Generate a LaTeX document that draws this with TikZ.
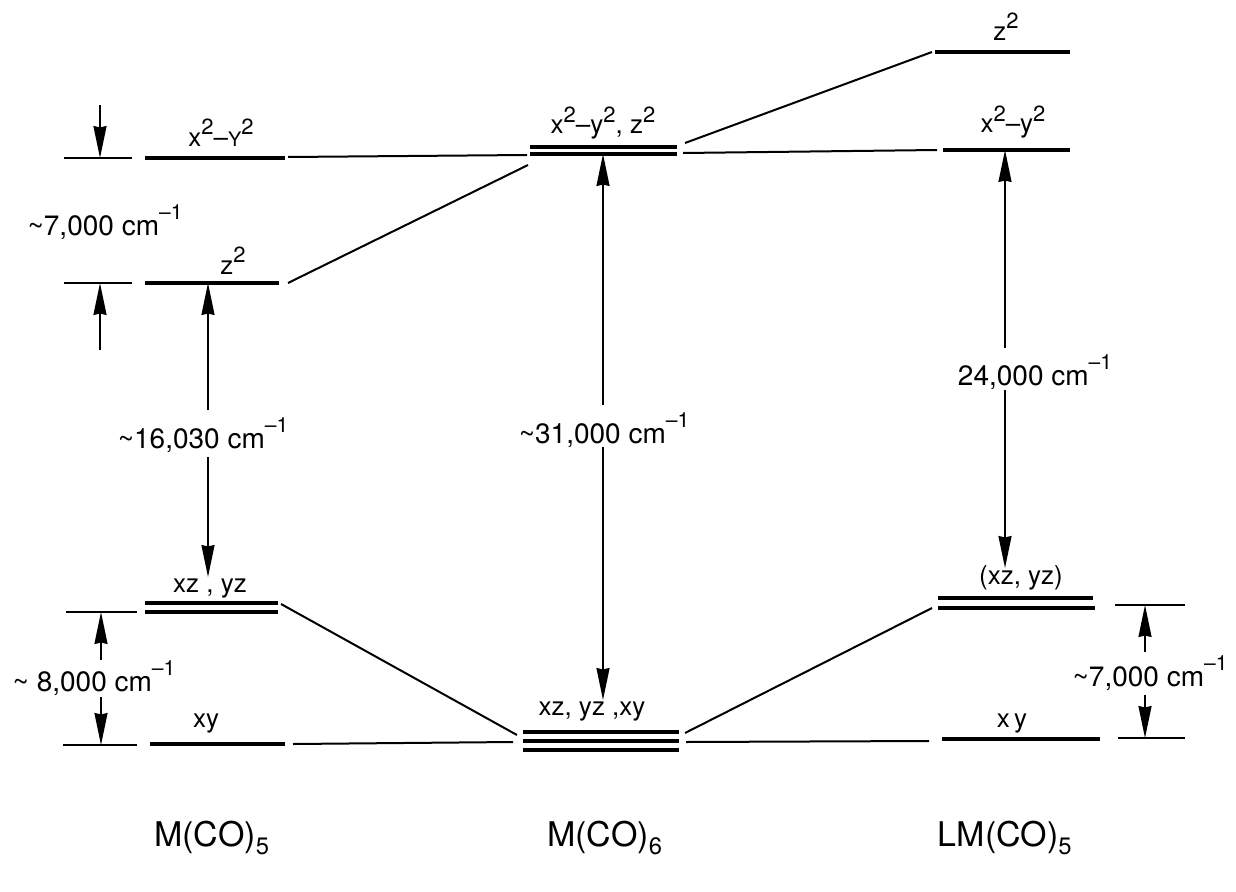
\documentclass[tikz,border=0pt]{standalone}
\usepackage{fontspec}
\setmainfont{TeX Gyre Heros}
\usetikzlibrary{arrows.meta}
% short-hands for the labels
\newcommand\sq{\raisebox{0.45em}{\fontsize{22}{22}\selectfont 2}}
\newcommand\wn{cm\raisebox{0.55em}{\fontsize{21}{21}\selectfont\textendash1}}
\newcommand\apx{\textasciitilde}
\newcommand\capY{{\fontsize{20}{20}\selectfont Y}}
\begin{document}
\begin{tikzpicture}[x=1pt,y=-1pt,
  level/.style={line width=3.4pt},
  link/.style={line width=2pt},
  tick/.style={line width=2pt},
  gap/.style={-{Stealth[length=32pt,width=13pt,inset=1.5pt]},line width=1.8pt},
  lab/.style={font=\fontsize{26}{26}\selectfont, inner sep=0pt},
  val/.style={font=\fontsize{28}{28}\selectfont, inner sep=0pt},
  molname/.style={font=\fontsize{34}{34}\selectfont, inner sep=0pt}
]
\useasboundingbox (0,0) rectangle (1236,891);

% ---------- M(CO)5 levels ----------
\draw[level] (145,158) -- (285,158);
\draw[level] (145,283) -- (279,283);
\draw[level] (145,603) -- (278,603);
\draw[level] (145,612) -- (278,612);
\draw[level] (150,744) -- (285,744);
\node[lab] (a1) at (221,133) {x\sq\textendash\capY\sq};
\node[lab] (a2) at (233,261) {z\sq};
\node[lab] (a3) at (210,589) {xz , yz};
\node[lab] (a4) at (206,724) {xy};

% ---------- M(CO)6 levels ----------
\draw[level] (530,147) -- (677,147);
\draw[level] (530,154) -- (677,154);
\draw[level] (523,732) -- (679,732);
\draw[level] (523,741) -- (679,741);
\draw[level] (523,750) -- (679,750);
\node[lab] (b1) at (603,123) {x\sq\textendash y\sq, z\sq};
\node[lab] (b2) at (592,712) {xz, yz ,xy};

% ---------- LM(CO)5 levels ----------
\draw[level] (935,52) -- (1070,52);
\draw[level] (943,150) -- (1070,150);
\draw[level] (938,598) -- (1093,598);
\draw[level] (938,608) -- (1095,608);
\draw[level] (942,739) -- (1100,739);
\node[lab] (c1) at (1006,27) {z\sq};
\node[lab] (c2) at (1013,122) {x\sq\textendash y\sq};
\node[lab] (c3) at (1021,578) {(xz, yz)};
\node[lab] (c4) at (1012,724) {x\,y};

% ---------- correlation lines ----------
\coordinate (A1e) at (288,157); \coordinate (B1wa) at (527,155);
\coordinate (A2e) at (288,283); \coordinate (B1wb) at (528,165);
\coordinate (B1ea) at (685,143); \coordinate (C1w) at (932,52);
\coordinate (B1eb) at (683,153); \coordinate (C2w) at (937,150);
\coordinate (A3e) at (281,604); \coordinate (B2wa) at (517,735);
\coordinate (A4e) at (293,744); \coordinate (B2wb) at (513,742);
\coordinate (B2ea) at (685,733); \coordinate (C3w) at (932,608);
\coordinate (B2eb) at (686,742); \coordinate (C4w) at (929,741);
\draw[link] (A1e) -- (B1wa);
\draw[link] (A2e) -- (B1wb);
\draw[link] (B1ea) -- (C1w);
\draw[link] (B1eb) -- (C2w);
\draw[link] (A3e) -- (B2wa);
\draw[link] (A4e) -- (B2wb);
\draw[link] (B2ea) -- (C3w);
\draw[link] (B2eb) -- (C4w);

% ---------- separation ticks ----------
\draw[tick] (64,158) -- (132,158);
\draw[tick] (64,283) -- (132,283);
\draw[tick] (66,612) -- (137,612);
\draw[tick] (63,745) -- (137,745);
\draw[tick] (1115,605) -- (1185,605);
\draw[tick] (1118,738) -- (1185,738);

% ---------- splitting arrows ----------
\node[val] (s1) at (105,222) {\apx7,000 \wn};
\coordinate (s1a) at (100,105); \coordinate (s1b) at (100,158);
\coordinate (s1c) at (100,350); \coordinate (s1d) at (100,283);
\draw[gap] (s1a) -- (s1b);
\draw[gap] (s1c) -- (s1d);

\node[val] (s2) at (94,678) {\apx\ 8,000 \wn};
\coordinate (s2a) at (101,660); \coordinate (s2b) at (101,612);
\coordinate (s2c) at (101,697); \coordinate (s2d) at (101,745);
\draw[gap] (s2a) -- (s2b);
\draw[gap] (s2c) -- (s2d);

\node[val] (s3) at (1150,673) {\apx7,000 \wn};
\coordinate (s3a) at (1145,652); \coordinate (s3b) at (1145,605);
\coordinate (s3c) at (1145,695); \coordinate (s3d) at (1145,738);
\draw[gap] (s3a) -- (s3b);
\draw[gap] (s3c) -- (s3d);

% ---------- transition arrows ----------
\node[val] (t1) at (203,435) {\apx16,030 \wn};
\coordinate (t1a) at (208,410); \coordinate (t1b) at (208,283);
\coordinate (t1c) at (208,457); \coordinate (t1d) at (208,577);
\draw[gap] (t1a) -- (t1b);
\draw[gap] (t1c) -- (t1d);

\node[val] (t2) at (604,430) {\apx31,000 \wn};
\coordinate (t2a) at (603,405); \coordinate (t2b) at (603,154);
\coordinate (t2c) at (603,447); \coordinate (t2d) at (603,700);
\draw[gap] (t2a) -- (t2b);
\draw[gap] (t2c) -- (t2d);

\node[val] (t3) at (1035,372) {24,000 \wn};
\coordinate (t3a) at (1005,348); \coordinate (t3b) at (1005,150);
\coordinate (t3c) at (1005,390); \coordinate (t3d) at (1005,568);
\draw[gap] (t3a) -- (t3b);
\draw[gap] (t3c) -- (t3d);

% ---------- molecule names ----------
\node[molname] (m1) at (212,838) {M(CO)\textsubscript{5}};
\node[molname] (m2) at (605,838) {M(CO)\textsubscript{6}};
\node[molname] (m3) at (1005,838) {LM(CO)\textsubscript{5}};
\end{tikzpicture}
\end{document}
